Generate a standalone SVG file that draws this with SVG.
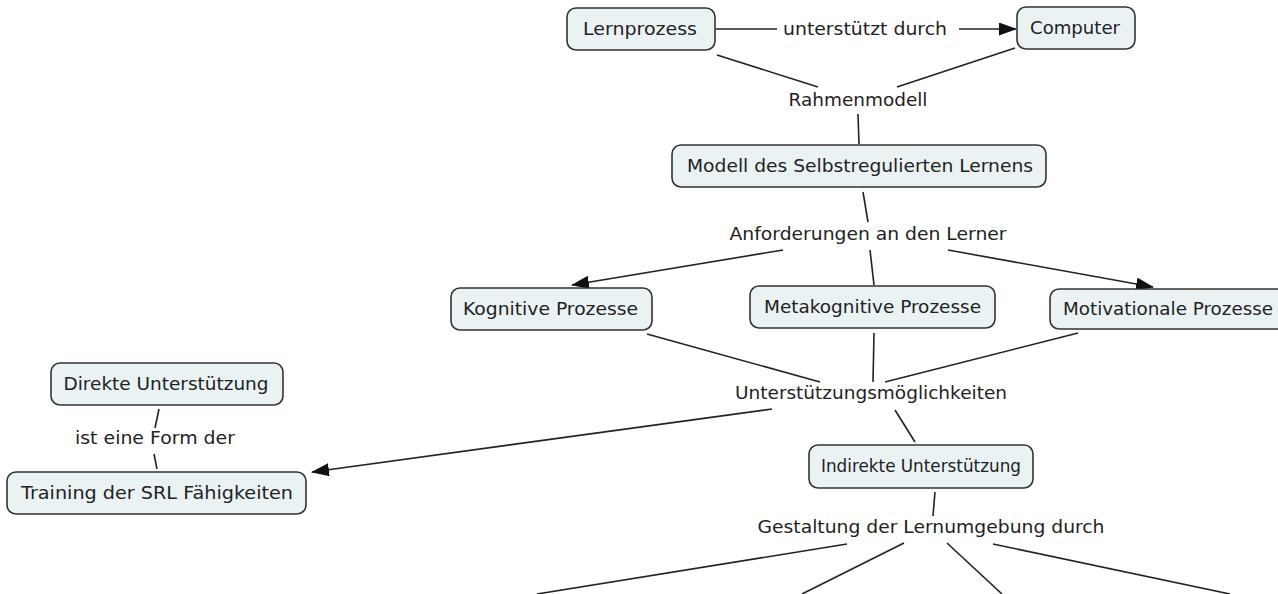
<svg xmlns="http://www.w3.org/2000/svg" width="1278" height="594" viewBox="0 0 1278 594">
<style>
.n rect{fill:#ebf2f4;stroke:#333;stroke-width:1.6}
text{font-family:"DejaVu Sans",Verdana,sans-serif;font-size:18.5px;fill:#222;text-anchor:middle}
.c line{stroke:#222;stroke-width:1.6;fill:none}
.c .ar{marker-end:url(#a)}
</style>
<defs>
<marker id="a" viewBox="0 0 18 13" refX="17" refY="6.5" markerWidth="18" markerHeight="13" markerUnits="userSpaceOnUse" orient="auto">
<path d="M0,0 L18,6.5 L0,13 z" fill="#111"/>
</marker>
</defs>
<rect width="1278" height="594" fill="#fff"/>
<g class="c">
<line x1="716" y1="29" x2="777" y2="29"/>
<line x1="959" y1="29" x2="1016" y2="29" class="ar"/>
<line x1="717" y1="55" x2="818" y2="87"/>
<line x1="1015" y1="48" x2="897" y2="87"/>
<line x1="858" y1="114" x2="859" y2="144"/>
<line x1="863" y1="192" x2="868" y2="222"/>
<line x1="783" y1="250" x2="572" y2="285" class="ar"/>
<line x1="870" y1="250" x2="874" y2="285"/>
<line x1="948" y1="250" x2="1153" y2="287" class="ar"/>
<line x1="647" y1="334" x2="820" y2="382"/>
<line x1="874" y1="333" x2="873" y2="382"/>
<line x1="1078" y1="333" x2="885" y2="382"/>
<line x1="772" y1="409" x2="312" y2="472" class="ar"/>
<line x1="895" y1="410" x2="915" y2="442"/>
<line x1="935" y1="492" x2="933" y2="516"/>
<line x1="847" y1="544" x2="537" y2="594"/>
<line x1="904" y1="543" x2="802" y2="594"/>
<line x1="947" y1="543" x2="1002" y2="594"/>
<line x1="993" y1="544" x2="1230" y2="594"/>
<line x1="159" y1="409" x2="155" y2="428"/>
<line x1="154" y1="454" x2="157" y2="469"/>
</g>
<g id="lernprozess" class="n"><rect x="567" y="8" width="148" height="42" rx="9"/><text x="640" y="35" textLength="114" lengthAdjust="spacingAndGlyphs">Lernprozess</text></g>
<g id="computer" class="n"><rect x="1017" y="7" width="118" height="42" rx="9"/><text x="1075" y="34" textLength="90" lengthAdjust="spacingAndGlyphs">Computer</text></g>
<g id="l-unterstuetzt"><text x="865" y="35" textLength="164" lengthAdjust="spacingAndGlyphs">unterstützt durch</text></g>
<g id="l-rahmen"><text x="858" y="106" textLength="139" lengthAdjust="spacingAndGlyphs">Rahmenmodell</text></g>
<g id="modell" class="n"><rect x="672" y="145" width="374" height="42" rx="9"/><text x="860" y="172" textLength="346" lengthAdjust="spacingAndGlyphs">Modell des Selbstregulierten Lernens</text></g>
<g id="l-anf"><text x="868" y="240" textLength="277" lengthAdjust="spacingAndGlyphs">Anforderungen an den Lerner</text></g>
<g id="kognitiv" class="n"><rect x="451" y="288" width="201" height="42" rx="9"/><text x="550.5" y="315" textLength="175" lengthAdjust="spacingAndGlyphs">Kognitive Prozesse</text></g>
<g id="metakognitiv" class="n"><rect x="750" y="286" width="245" height="42" rx="9"/><text x="872.5" y="313" textLength="217" lengthAdjust="spacingAndGlyphs">Metakognitive Prozesse</text></g>
<g id="motivational" class="n"><rect x="1050" y="289" width="238" height="40" rx="9"/><text x="1168" y="315" textLength="210" lengthAdjust="spacingAndGlyphs">Motivationale Prozesse</text></g>
<g id="l-moegl"><text x="871" y="399" textLength="272" lengthAdjust="spacingAndGlyphs">Unterstützungsmöglichkeiten</text></g>
<g id="indirekt" class="n"><rect x="809" y="445" width="224" height="43" rx="9"/><text x="921" y="472" textLength="200" lengthAdjust="spacingAndGlyphs">Indirekte Unterstützung</text></g>
<g id="l-gestaltung"><text x="931" y="533" textLength="347" lengthAdjust="spacingAndGlyphs">Gestaltung der Lernumgebung durch</text></g>
<g id="direkt" class="n"><rect x="51" y="363" width="232" height="42" rx="9"/><text x="166" y="390" textLength="205" lengthAdjust="spacingAndGlyphs">Direkte Unterstützung</text></g>
<g id="l-form"><text x="155" y="444" textLength="160" lengthAdjust="spacingAndGlyphs">ist eine Form der</text></g>
<g id="training" class="n"><rect x="7" y="472" width="299" height="42" rx="9"/><text x="157" y="499" textLength="272" lengthAdjust="spacingAndGlyphs">Training der SRL Fähigkeiten</text></g>
</svg>
